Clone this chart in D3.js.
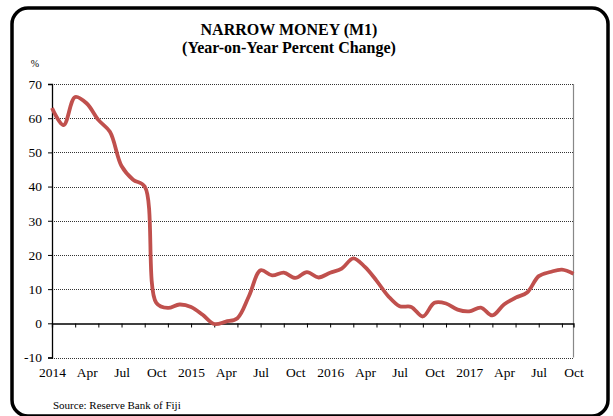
<!DOCTYPE html>
<html><head><meta charset="utf-8">
<script src="https://cdn.jsdelivr.net/npm/d3@7"></script>
<style>body{margin:0;background:#fff}svg{display:block}svg text{font-family:"Liberation Serif","Times New Roman","DejaVu Serif",serif !important;fill:#000}</style>
</head><body><div id="chart"></div>
<script>
const months = ["2014","Feb","Mar","Apr","May","Jun","Jul","Aug","Sep","Oct","Nov","Dec",
  "2015","Feb","Mar","Apr","May","Jun","Jul","Aug","Sep","Oct","Nov","Dec",
  "2016","Feb","Mar","Apr","May","Jun","Jul","Aug","Sep","Oct","Nov","Dec",
  "2017","Feb","Mar","Apr","May","Jun","Jul","Aug","Sep","Oct"];
const m1Growth = [63,58,66.2,64.3,59.5,56,46,42,40,6,4.5,5.5,
  4.8,2.5,-0.2,0.5,1.5,8,15.5,14,14.8,13.3,15,13.4,
  14.8,16,19,16.5,12.5,8,5,4.8,2,6,5.8,4,
  3.5,4.6,2.3,5.5,7.5,9,13.8,15,15.7,14.5];
const yTicks = [-10,0,10,20,30,40,50,60,70];
const titleLines = ["NARROW MONEY (M1)","(Year-on-Year Percent Change)"];
const sourceText = "Source:  Reserve Bank of Fiji";

const FONT='"Liberation Serif","Times New Roman","DejaVu Serif",serif';
const W=613,H=416;
const svg=d3.select("#chart").append("svg").attr("width",W).attr("height",H);
svg.append("rect").attr("x",12).attr("y",8).attr("width",596).attr("height",408)
  .attr("rx",16).attr("fill","#fff").attr("stroke","#000").attr("stroke-width",3.5);

const L=52,R=573.5,T=84,B=357.5;
const x=d3.scaleLinear().domain([0,months.length-1]).range([L,R]);
const y=d3.scaleLinear().domain([-10,70]).range([B,T]);

// gridlines
svg.append("g").selectAll("line").data(yTicks.filter(d=>d!==0)).join("line")
  .attr("x1",L).attr("x2",R).attr("y1",d=>Math.round(y(d))+0.5).attr("y2",d=>Math.round(y(d))+0.5)
  .attr("stroke","#333").attr("stroke-width",1).attr("stroke-dasharray","1,1");
// right border
svg.append("line").attr("x1",R).attr("x2",R).attr("y1",T).attr("y2",B).attr("stroke","#888").attr("stroke-width",1.2);

// y axis
const yAxis=d3.axisLeft(y).tickValues(yTicks).tickSize(4).tickPadding(6).tickFormat(d=>String(d));
const gy=svg.append("g").attr("transform",`translate(${L},0)`).call(yAxis).attr("font-family",FONT).attr("font-size",13.5);
gy.select(".domain").attr("stroke","#000").attr("stroke-width",1.3);

// zero axis with ticks every 2 months
const tickIdx=d3.range(0,months.length,2);
const xAxis=d3.axisBottom(x).tickValues(tickIdx).tickSize(4).tickFormat("");
const gx=svg.append("g").attr("transform",`translate(0,${Math.round(y(0))+0.5})`).call(xAxis);
gx.select(".domain").attr("stroke","#000").attr("stroke-width",1.3);
gx.selectAll(".tick line").attr("stroke","#000");

// bottom labels every 3 months
const labIdx=d3.range(0,months.length,3);
const xLab=d3.axisBottom(x).tickValues(labIdx).tickSize(0).tickPadding(10).tickFormat(i=>months[i]);
const gl=svg.append("g").attr("transform",`translate(0,${B})`).call(xLab).attr("font-family",FONT).attr("font-size",13.5);
gl.select(".domain").remove();

// line
const line=d3.line().x((d,i)=>x(i)).y(d=>y(d)).curve(d3.curveCatmullRom.alpha(0.5));
svg.append("path").datum(m1Growth).attr("d",line).attr("fill","none")
  .attr("stroke","#C0504D").attr("stroke-width",3.8).attr("stroke-linejoin","round");

// titles
svg.selectAll(".title").data(titleLines).join("text").attr("class","title")
  .attr("x",289).attr("y",(d,i)=>35+i*17.5).attr("text-anchor","middle")
  .attr("font-family",FONT).attr("font-size",16).attr("font-weight","bold").text(d=>d);
svg.append("text").attr("x",35).attr("y",67).attr("text-anchor","middle").attr("font-family",FONT).attr("font-size",10).text("%");
svg.append("text").attr("x",53).attr("y",409).attr("font-family",FONT).attr("font-size",11).text(sourceText);
</script></body></html>
